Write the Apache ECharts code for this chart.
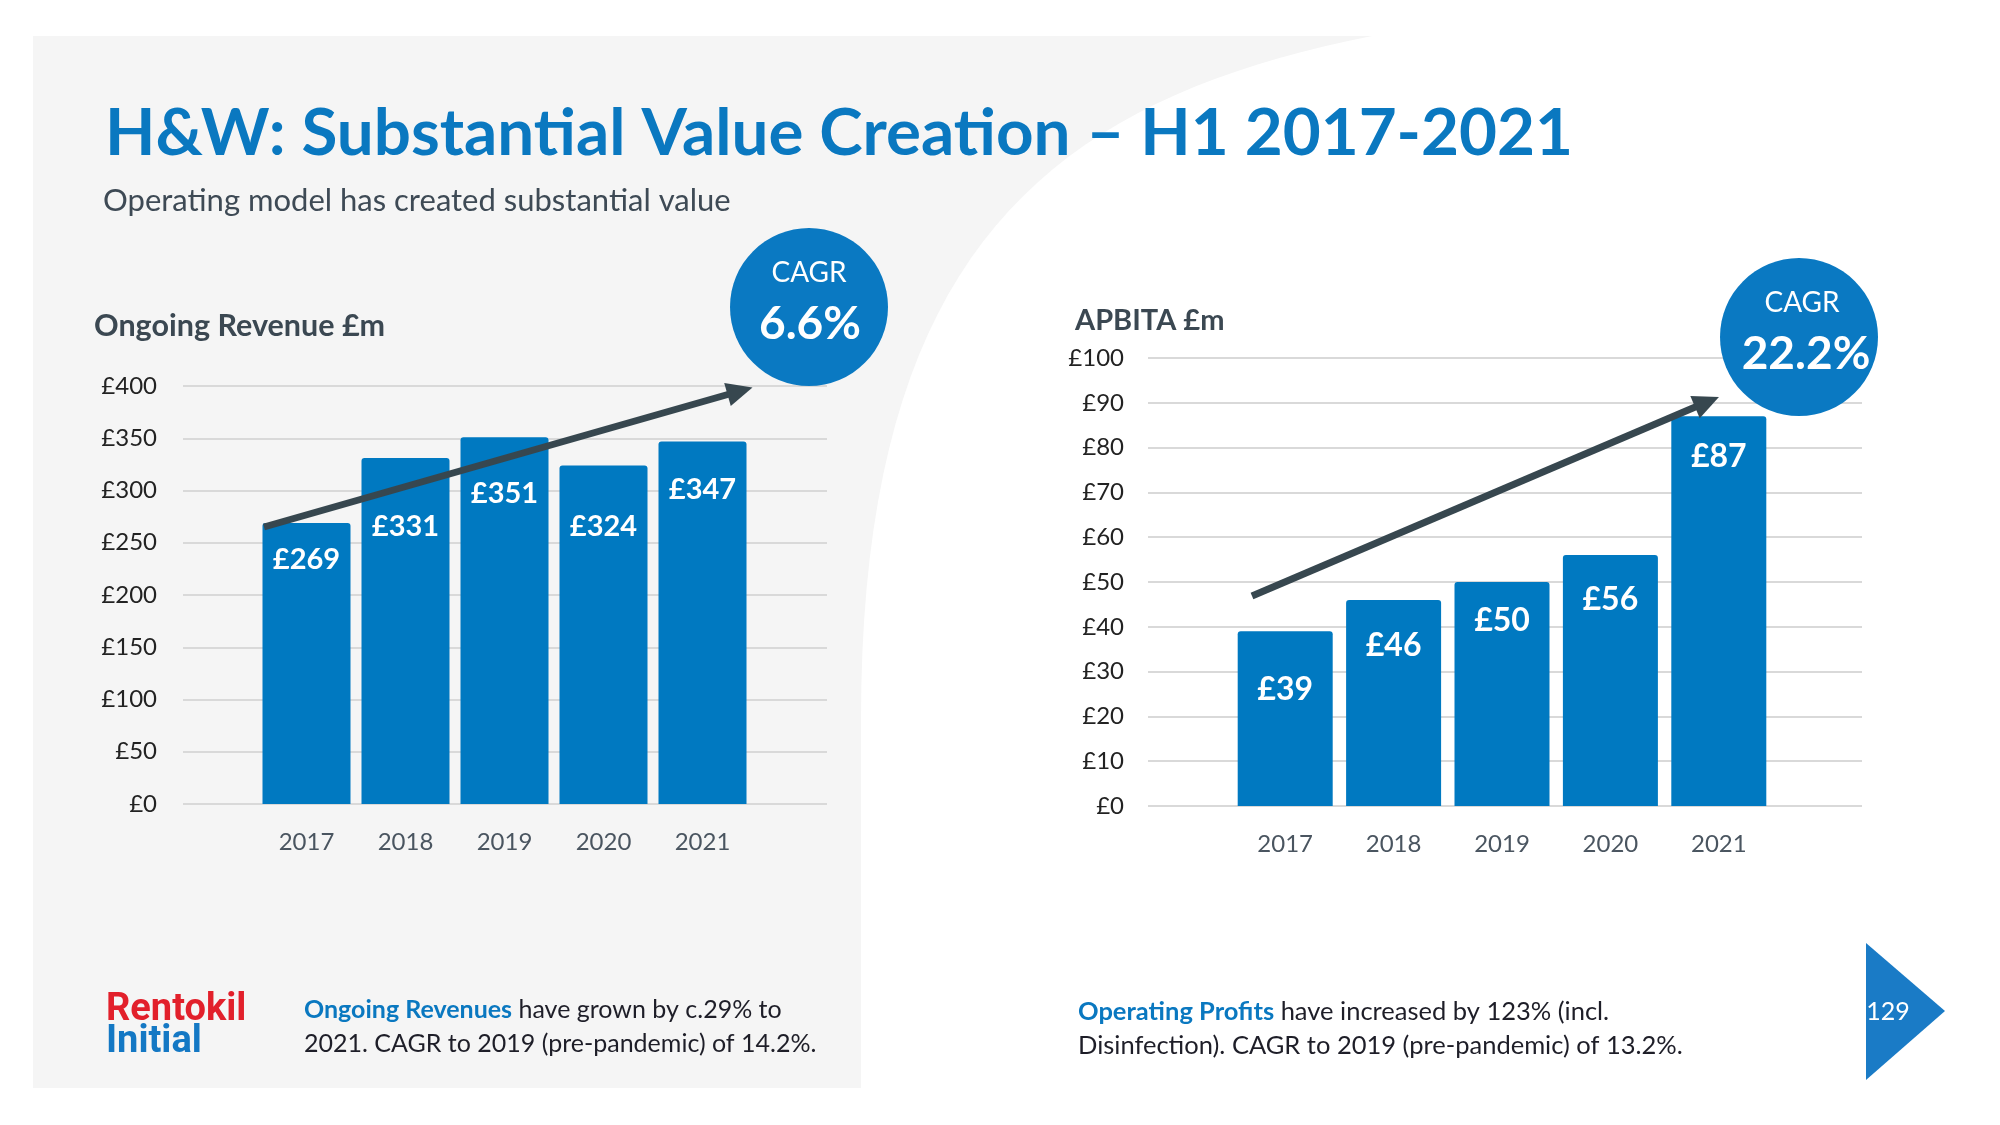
<!DOCTYPE html>
<html><head><meta charset="utf-8">
<script src="https://cdn.jsdelivr.net/npm/echarts@6/dist/echarts.min.js"></script>
<style>html,body{margin:0;padding:0;background:#fff}#c{width:2000px;height:1125px}</style>
</head><body><div id="c"></div>
<script>
// ---- data ----
const years = ['2017', '2018', '2019', '2020', '2021'];
const revenue = [269, 331, 351, 324, 347];
const apbita = [39, 46, 50, 56, 87];
const revTicks = [0, 50, 100, 150, 200, 250, 300, 350, 400];
const apbTicks = [0, 10, 20, 30, 40, 50, 60, 70, 80, 90, 100];
const revCagr = '6.6%';
const apbCagr = '22.2%';

// ---- styling (label gaps per bar) ----
const revLabelGap = [22, 54, 42, 47, 34];
const apbLabelGap = [42, 30, 23, 29, 24];

const BLUE = '#0079c1';
const DARK = '#37474f';
const GRID = '#d9d9d9';
const FONT = 'Lato';

// background panel outline (decorative curved edge)
function panelPoints() {
  const pts = [[33, 36], [1372, 36]];
  const p0 = [1372, 36], p1 = [1050, 100], p2 = [861, 250], p3 = [861, 720];
  for (let k = 1; k <= 40; k++) {
    const t = k / 40, u = 1 - t;
    pts.push([
      u*u*u*p0[0] + 3*u*u*t*p1[0] + 3*u*t*t*p2[0] + t*t*t*p3[0],
      u*u*u*p0[1] + 3*u*u*t*p1[1] + 3*u*t*t*p2[1] + t*t*t*p3[1]
    ]);
  }
  pts.push([861, 1088], [33, 1088]);
  return pts;
}

function yAxisVisible(ticks, gridIndex, margin) {
  return {
    type: 'value', gridIndex: gridIndex,
    min: ticks[0], max: ticks[ticks.length - 1], interval: ticks[1] - ticks[0],
    axisLine: {show: false}, axisTick: {show: false},
    axisLabel: {color: '#222', fontFamily: FONT, fontSize: 24, margin: margin, formatter: v => '£' + v},
    splitLine: {lineStyle: {color: GRID, width: 2}}
  };
}
function yAxisHidden(ticks, gridIndex) {
  return {type: 'value', gridIndex: gridIndex, show: false,
    min: ticks[0], max: ticks[ticks.length - 1], interval: ticks[1] - ticks[0], splitLine: {show: false}};
}
function xAxisCat(gridIndex, showLabels) {
  return {
    type: 'category', gridIndex: gridIndex, data: years, show: showLabels,
    axisLine: {show: false}, axisTick: {show: false},
    axisLabel: {color: '#4a5560', fontFamily: FONT, fontSize: 24, margin: 26}
  };
}
function barData(vals, gaps) {
  return vals.map((v, i) => ({value: v, label: {distance: gaps[i]}}));
}

const option = {
  backgroundColor: '#ffffff',
  animation: false,
  grid: [
    {left: 183, width: 644, top: 386, height: 418},
    {left: 257, width: 495, top: 386, height: 418},
    {left: 1148, width: 714, top: 358, height: 448},
    {left: 1231, width: 542, top: 358, height: 448}
  ],
  xAxis: [xAxisCat(0, false), xAxisCat(1, true), xAxisCat(2, false), xAxisCat(3, true)],
  yAxis: [yAxisVisible(revTicks, 0, 26), yAxisHidden(revTicks, 1), yAxisVisible(apbTicks, 2, 24), yAxisHidden(apbTicks, 3)],
  series: [
    {
      type: 'bar', xAxisIndex: 1, yAxisIndex: 1, barWidth: 88,
      data: barData(revenue, revLabelGap),
      itemStyle: {color: BLUE, borderRadius: [3, 3, 0, 0]},
      label: {show: true, position: 'insideTop', color: '#fff', fontFamily: FONT, fontWeight: 'bold', fontSize: 29,
        formatter: p => '£' + p.value},
      markLine: {
        silent: true, symbol: ['none', 'triangle'], symbolSize: [24, 26],
        lineStyle: {color: DARK, width: 7, type: 'solid'}, label: {show: false},
        data: [[{x: 264, y: 527}, {x: 740, y: 391}]]
      }
    },
    {
      type: 'bar', xAxisIndex: 3, yAxisIndex: 3, barWidth: 95,
      data: barData(apbita, apbLabelGap),
      itemStyle: {color: BLUE, borderRadius: [3, 3, 0, 0]},
      label: {show: true, position: 'insideTop', color: '#fff', fontFamily: FONT, fontWeight: 'bold', fontSize: 32,
        formatter: p => '£' + p.value},
      markLine: {
        silent: true, symbol: ['none', 'triangle'], symbolSize: [24, 26],
        lineStyle: {color: DARK, width: 7, type: 'solid'}, label: {show: false},
        data: [[{x: 1252, y: 596}, {x: 1707, y: 402}]]
      }
    }
  ],
  graphic: [
    {type: 'polygon', z: -10, silent: true, shape: {points: panelPoints()}, style: {fill: '#f5f5f5'}},
    {type: 'text', x: 105, y: 134, z: 10, style: {text: 'H&W: Substantial Value Creation – H1 2017-2021',
      font: 'bold 65.5px ' + FONT, fill: '#0a78c0', align: 'left', verticalAlign: 'middle'}},
    {type: 'text', x: 103, y: 201, z: 10, style: {text: 'Operating model has created substantial value',
      font: '31px ' + FONT, fill: '#3e4a55', align: 'left', verticalAlign: 'middle'}},
    {type: 'text', x: 94, y: 326, z: 10, style: {text: 'Ongoing Revenue £m',
      font: 'bold 30.5px ' + FONT, fill: '#3b4852', align: 'left', verticalAlign: 'middle'}},
    {type: 'text', x: 1075, y: 321, z: 10, style: {text: 'APBITA £m',
      font: 'bold 29px ' + FONT, fill: '#3b4852', align: 'left', verticalAlign: 'middle'}},
    {type: 'circle', z: 100, shape: {cx: 809, cy: 307, r: 79}, style: {fill: '#0a79c2'}},
    {type: 'text', z: 101, x: 809, y: 273, style: {text: 'CAGR', font: '28px ' + FONT, fill: '#fff', align: 'center', verticalAlign: 'middle'}},
    {type: 'text', z: 101, x: 810, y: 324, style: {text: revCagr, font: 'bold 46px ' + FONT, fill: '#fff', align: 'center', verticalAlign: 'middle'}},
    {type: 'circle', z: 100, shape: {cx: 1799, cy: 337, r: 79}, style: {fill: '#0a79c2'}},
    {type: 'text', z: 101, x: 1802, y: 303, style: {text: 'CAGR', font: '28px ' + FONT, fill: '#fff', align: 'center', verticalAlign: 'middle'}},
    {type: 'text', z: 101, x: 1806, y: 354, style: {text: apbCagr, font: 'bold 46px ' + FONT, fill: '#fff', align: 'center', verticalAlign: 'middle'}},
    {type: 'text', z: 10, x: 106, y: 1010, style: {text: 'Rentokil', font: 'bold 38px Roboto', fill: '#e2202b', align: 'left', verticalAlign: 'middle'}},
    {type: 'text', z: 10, x: 106, y: 1042, style: {text: 'Initial', font: 'bold 38px Roboto', fill: '#1478c4', align: 'left', verticalAlign: 'middle'}},
    {type: 'text', z: 10, x: 304, y: 993, style: {
      text: '{b|Ongoing Revenues} have grown by c.29% to\n2021. CAGR to 2019 (pre-pandemic) of 14.2%.',
      fontSize: 25, fontFamily: FONT, fill: '#1e1e28', lineHeight: 34, align: 'left', verticalAlign: 'top',
      rich: {b: {fill: '#0a78c0', fontWeight: 'bold', fontSize: 25, fontFamily: FONT, lineHeight: 34}}}},
    {type: 'text', z: 10, x: 1078, y: 995, style: {
      text: '{b|Operating Profits} have increased by 123% (incl.\nDisinfection). CAGR to 2019 (pre-pandemic) of 13.2%.',
      fontSize: 25.5, fontFamily: FONT, fill: '#1e1e28', lineHeight: 34, align: 'left', verticalAlign: 'top',
      rich: {b: {fill: '#0a78c0', fontWeight: 'bold', fontSize: 25.5, fontFamily: FONT, lineHeight: 34}}}},
    {type: 'polygon', z: 10, shape: {points: [[1866, 943], [1945, 1011], [1866, 1080]]}, style: {fill: '#1a7bc6'}},
    {type: 'text', z: 11, x: 1888, y: 1012, style: {text: '129', font: '25px ' + FONT, fill: '#fff', align: 'center', verticalAlign: 'middle'}}
  ]
};

const chart = echarts.init(document.getElementById('c'), null, {renderer: 'canvas'});
chart.setOption(option);
</script>
</body></html>
